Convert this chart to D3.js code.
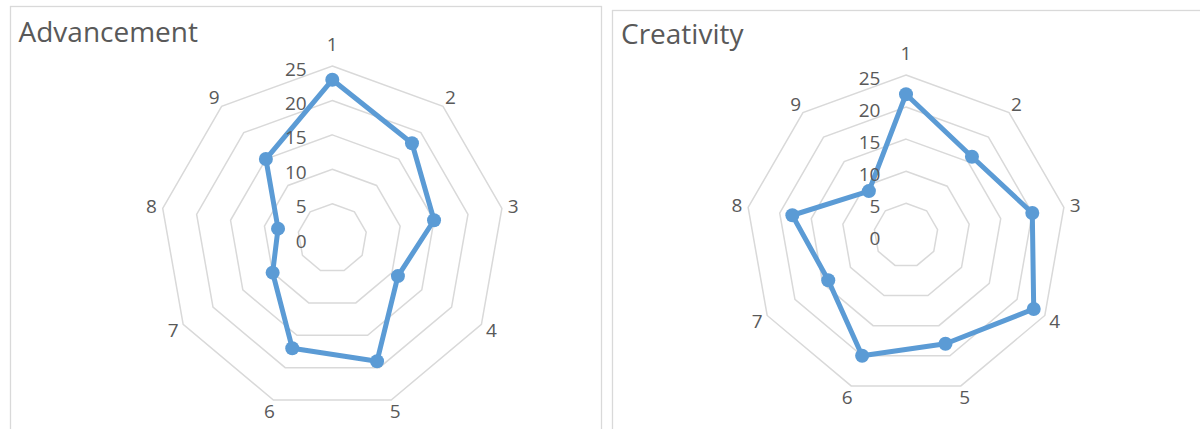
<!DOCTYPE html>
<html>
<head>
<meta charset="utf-8">
<script src="https://cdn.jsdelivr.net/npm/d3@7"></script>
<style>
  body { margin: 0; background: #fff; }
  svg { display: block; }
  text { font-family: "Open Sans", "Noto Sans", sans-serif; fill: #595959; }
</style>
</head>
<body>
<svg id="chart" width="1200" height="429"></svg>
<script>
// Radar axes (one per statement) and the value rings
const categories = ["1", "2", "3", "4", "5", "6", "7", "8", "9"];
const tickValues = [0, 5, 10, 15, 20, 25];
const advancement = [23, 18, 15, 11, 19, 17, 10, 8, 15];
const creativity = [22, 16, 20, 23, 18, 20, 14, 18, 9];
const titles = ["Advancement", "Creativity"];

const LINE = "#5B9BD5";
const GRID = "#d9d9d9";

const svg = d3.select("#chart");

const panels = [
  { title: titles[0], values: advancement, box: [10.5, 6.5, 591, 500],
    titleX: 18.5, titleY: 41.5, cx: 332.3, cy: 238.2, R: 172.2 },
  { title: titles[1], values: creativity, box: [612.5, 10.5, 600, 500],
    titleX: 621, titleY: 44, cx: 906, cy: 235.3, R: 160.3 }
];

const angle = d3.scaleLinear()
  .domain([0, categories.length])
  .range([0, 2 * Math.PI]);

panels.forEach(p => {
  // chart frame
  svg.append("rect")
    .attr("x", p.box[0]).attr("y", p.box[1])
    .attr("width", p.box[2]).attr("height", p.box[3])
    .attr("fill", "#fff").attr("stroke", GRID).attr("stroke-width", 1.3);

  svg.append("text")
    .attr("x", p.titleX).attr("y", p.titleY)
    .attr("font-size", 28)
    .text(p.title);

  const g = svg.append("g").attr("transform", `translate(${p.cx},${p.cy})`);
  const r = d3.scaleLinear().domain([0, d3.max(tickValues)]).range([0, p.R]);

  // concentric nonagon gridlines
  tickValues.filter(v => v > 0).forEach(v => {
    const ring = d3.lineRadial()
      .angle((d, i) => angle(i))
      .radius(r(v))
      .curve(d3.curveLinearClosed);
    g.append("path")
      .attr("d", ring(categories))
      .attr("fill", "none")
      .attr("stroke", GRID)
      .attr("stroke-width", 1.5);
  });

  // data series
  const series = d3.lineRadial()
    .angle((d, i) => angle(i))
    .radius(d => r(d))
    .curve(d3.curveLinearClosed);
  g.append("path")
    .attr("d", series(p.values))
    .attr("fill", "none")
    .attr("stroke", LINE)
    .attr("stroke-width", 5)
    .attr("stroke-linejoin", "round");

  g.selectAll("circle.pt")
    .data(p.values)
    .join("circle")
    .attr("class", "pt")
    .attr("cx", (d, i) => Math.sin(angle(i)) * r(d))
    .attr("cy", (d, i) => -Math.cos(angle(i)) * r(d))
    .attr("r", 7)
    .attr("fill", LINE);

  // value axis labels along the first spoke
  g.selectAll("text.tick")
    .data(tickValues)
    .join("text")
    .attr("class", "tick")
    .attr("x", -25.6)
    .attr("y", d => -r(d) + 2.5)
    .attr("text-anchor", "end")
    .attr("dominant-baseline", "central")
    .attr("font-size", 19)
    .text(d => d);

  // category labels outside the outer ring
  g.selectAll("text.cat")
    .data(categories)
    .join("text")
    .attr("class", "cat")
    .attr("x", (d, i) => Math.sin(angle(i)) * (p.R + (i === 0 ? 22 : 11.5)))
    .attr("y", (d, i) => -Math.cos(angle(i)) * (p.R + (i === 0 ? 22 : 11.5)))
    .attr("text-anchor", "middle")
    .attr("dominant-baseline", "central")
    .attr("font-size", 19)
    .text(d => d);
});
</script>
</body>
</html>
